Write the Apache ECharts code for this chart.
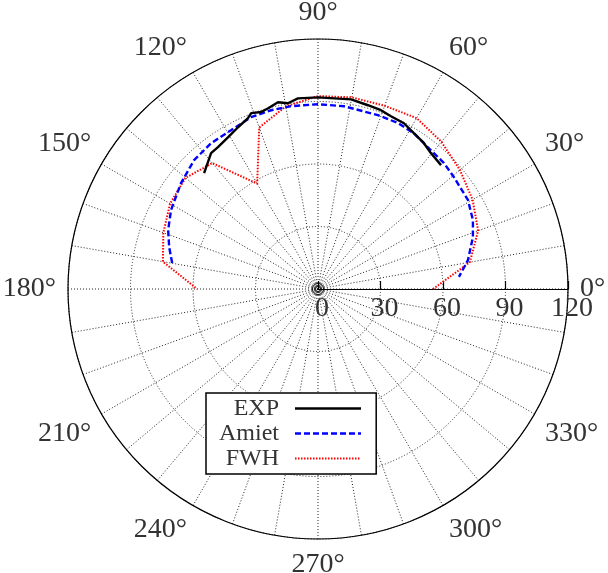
<!DOCTYPE html>
<html>
<head>
<meta charset="utf-8">
<script src="https://cdn.jsdelivr.net/npm/echarts@6/dist/echarts.min.js"></script>
<style>
  html, body { margin: 0; padding: 0; background: #fff; }
  #chart { width: 608px; height: 573px; }
</style>
</head>
<body>
<div id="chart"></div>
<script>
// Directivity data: angle (deg) and level for each curve
const expAngle = [134.5, 128.2, 125.2, 120.6, 116.3, 112.3, 110.8, 107.8, 105.4, 102.1, 99.2, 96.0, 90, 80.1, 74.8, 70.6, 67.1, 62.6, 58.4, 54.0, 50.3, 45.2];
const expLevel = [78.0, 83.0, 83.3, 84.7, 86.6, 88.6, 90.3, 89.2, 90.0, 91.7, 90.3, 92.0, 92.0, 92.4, 91.4, 91.0, 90.0, 89.6, 87.8, 86.5, 84.8, 83.8];

const amietAngle = [169.9, 164.3, 158.5, 151.7, 142.3, 133.9, 126.2, 118.7, 111.3, 104.7, 98.4, 90, 81.9, 71.0, 64.3, 58.4, 52.2, 45, 39.5, 30.7, 24.0, 18.5, 10.9, 4.9];
const amietLevel = [71.1, 74.2, 77.3, 80.1, 83.1, 85.8, 86.8, 86.9, 88.5, 88.7, 88.7, 88.7, 88.6, 88.3, 88.4, 87.8, 86.1, 85.5, 84.5, 83.7, 81.4, 78.4, 73.3, 67.9];

const fwhAngle = [0, 10, 20, 30, 40, 50, 60, 70, 80, 90, 100, 110, 120, 130, 140, 150, 160, 170, 180];
const fwhLevel = [55.2, 74.0, 81.8, 85.7, 88.9, 92.2, 94.7, 93.6, 93.4, 92.6, 89.0, 82.5, 58.4, 78.9, 83.0, 82.0, 79.0, 75.6, 58.0];

const radiusTicks = [0, 30, 60, 90, 120];
const angleLabelStep = 30;

const seriesNames = ['EXP', 'Amiet', 'FWH'];

// layout
const CX = 318, CY = 289, R = 250;
const FONT = 'Liberation Serif';
const TEXT = '#333';

function pairs(levels, angles) {
  return levels.map((r, i) => [r, angles[i]]);
}

const chart = echarts.init(document.getElementById('chart'), null, { renderer: 'canvas' });

const lineStyles = [
  { color: '#000', width: 2.4, type: 'solid' },
  { color: '#0000ff', width: 2.4, type: [6, 3] },
  { color: '#ff0000', width: 2, type: [1.5, 1.5] }
];

chart.setOption({
  backgroundColor: '#fff',
  animation: false,
  polar: { center: [CX, CY], radius: R },
  angleAxis: {
    type: 'value',
    min: 0,
    max: 360,
    interval: 10,
    startAngle: 0,
    clockwise: false,
    axisLine: { lineStyle: { color: '#000', width: 1.2 } },
    axisTick: { show: false },
    axisLabel: {
      margin: 12,
      fontFamily: FONT,
      fontSize: 28,
      color: TEXT,
      formatter: v => (v % angleLabelStep === 0 && v < 360) ? v + '°' : ''
    },
    splitLine: { lineStyle: { color: '#222', width: 1, type: [1, 2] } }
  },
  radiusAxis: {
    type: 'value',
    min: radiusTicks[0],
    max: radiusTicks[radiusTicks.length - 1],
    interval: radiusTicks[1] - radiusTicks[0],
    axisLine: { lineStyle: { color: '#000', width: 1.2 } },
    axisTick: { show: true, length: 8, lineStyle: { color: '#000', width: 1.2 } },
    axisLabel: {
      fontFamily: FONT, fontSize: 28, color: TEXT,
      margin: -6, verticalAlign: 'top', padding: [0, 0, 0, 8]
    },
    splitLine: { lineStyle: { color: '#222', width: 1, type: [1, 2] } }
  },
  legend: {
    orient: 'vertical',
    left: 206,
    top: 393,
    align: 'right',
    itemWidth: 66,
    itemHeight: 12,
    itemGap: 0,
    padding: [3, 14, 3, 3],
    backgroundColor: '#fff',
    borderColor: '#000',
    borderWidth: 1.5,
    borderRadius: 0,
    itemStyle: { opacity: 0 },
    textStyle: {
      fontFamily: FONT, fontSize: 24, color: TEXT,
      width: 70, align: 'right', lineHeight: 25, padding: [0, 11, 0, 0]
    },
    data: seriesNames.map((n, i) => ({ name: n, lineStyle: lineStyles[i] }))
  },
  graphic: [
    { type: 'circle', shape: { cx: CX, cy: CY, r: 2.5 }, style: { fill: null, stroke: '#000', lineWidth: 1 }, z: 10 },
    { type: 'circle', shape: { cx: CX, cy: CY, r: 5.5 }, style: { fill: null, stroke: '#000', lineWidth: 1 }, z: 10 }
  ],
  series: [
    { name: seriesNames[0], type: 'line', coordinateSystem: 'polar', symbol: 'none', data: pairs(expLevel, expAngle), lineStyle: lineStyles[0], itemStyle: { color: '#000' }, z: 5 },
    { name: seriesNames[1], type: 'line', coordinateSystem: 'polar', symbol: 'none', data: pairs(amietLevel, amietAngle), lineStyle: lineStyles[1], itemStyle: { color: '#0000ff' }, z: 4 },
    { name: seriesNames[2], type: 'line', coordinateSystem: 'polar', symbol: 'none', data: pairs(fwhLevel, fwhAngle), lineStyle: lineStyles[2], itemStyle: { color: '#ff0000' }, z: 3 }
  ]
});
</script>
</body>
</html>
